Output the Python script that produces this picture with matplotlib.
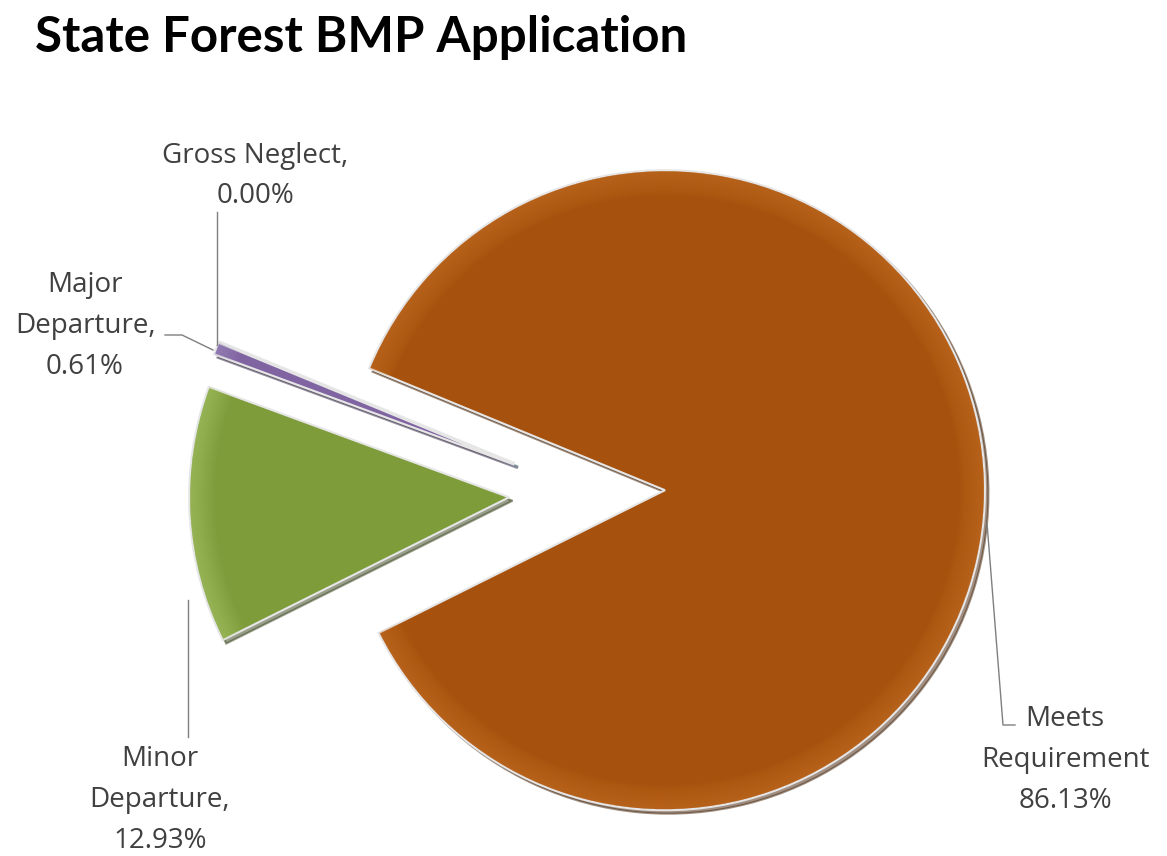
import matplotlib
matplotlib.use('Agg')
import matplotlib.pyplot as plt
from matplotlib.patches import Wedge

# data
labels = ['Meets\nRequirement', 'Minor\nDeparture,', 'Major\nDeparture,', 'Gross Neglect,']
values = [86.13, 12.93, 0.61, 0.00]
colors = ['#A6520E', '#7E9C3A', '#8064A2', '#4BACC6']
highlights = ['#E08A40', '#C4E08A', '#B9A6D6', '#9ED6E6']

W, H = 1167, 856

fig = plt.figure(figsize=(W / 100, H / 100), dpi=100)
ax = fig.add_axes([0, 0, 1, 1])

# explode is in data units here (pixels), not a radius fraction
wedges, _ = ax.pie(values, colors=colors, startangle=157.6, counterclock=False,
                   center=(587, H - 493), radius=320, explode=[78] * 4,
                   wedgeprops=dict(edgecolor='#e6e6e6', linewidth=1.5),
                   shadow={'ox': 2.5, 'oy': -2.5, 'shade': 0.6})

# soft bevel: lighter band along the rim of each slice (stacked thin rings)
for w, hc in zip(wedges, highlights):
    for k in range(1, 13):
        ax.add_patch(Wedge(w.center, w.r - 1, w.theta1, w.theta2, width=2 * k,
                           facecolor=hc, edgecolor='none', alpha=0.04))

ax.set_xlim(0, W)
ax.set_ylim(0, H)
ax.set_aspect('equal')
ax.axis('off')

# title
fig.text(35 / W, 1 - 38 / H, 'State Forest BMP Application', fontsize=35.5,
         fontweight='bold', family='Lato', ha='left', va='center', color='black')

# data labels
pct = ['%.2f%%' % v for v in values]
lab_font = dict(fontsize=20, family='Open Sans', color='#404040', ha='center',
                va='center', linespacing=1.6)
ax.text(1065, H - 760, labels[0] + '\n' + pct[0], **lab_font)
ax.text(160, H - 800, labels[1] + '\n' + pct[1], **lab_font)
ax.text(85, H - 326, labels[2] + '\n' + pct[2], **lab_font)
ax.text(255, H - 176, labels[3] + '\n' + pct[3], **lab_font)

# leader lines
lc = dict(color='#7f7f7f', linewidth=1)
ax.plot([987, 1003, 1015], [H - 523, H - 725, H - 725], **lc)
ax.plot([188, 188], [H - 600, H - 737], **lc)
ax.plot([165, 182, 213], [H - 335, H - 335, H - 350], **lc)
ax.plot([217, 217], [H - 212, H - 345], **lc)

fig.savefig('out.png', dpi=100, facecolor='white')
